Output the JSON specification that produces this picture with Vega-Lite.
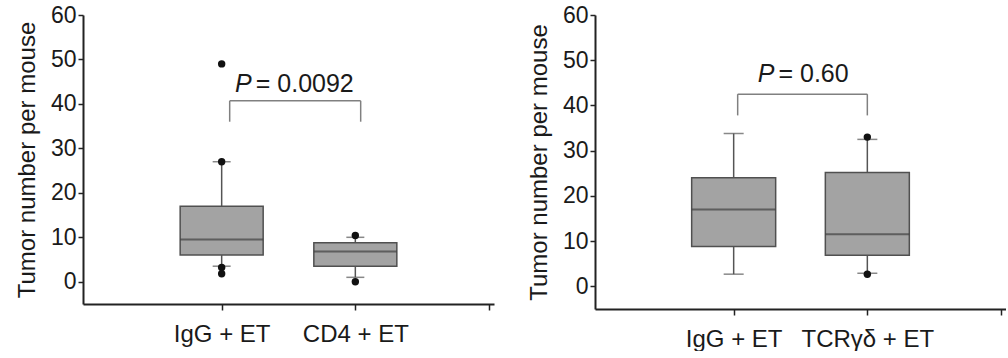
{
  "$schema": "https://vega.github.io/schema/vega-lite/v6.json",
  "padding": {"left": 15, "top": 4, "right": 0, "bottom": 0},
  "spacing": 33,
  "config": {
    "view": {"stroke": null},
    "font": "Liberation Sans",
    "axis": {"domainColor": "#222", "tickColor": "#222", "labelColor": "#1a1a1a", "titleColor": "#1a1a1a", "grid": false, "domainWidth": 2, "tickWidth": 1.5, "labelFont": "Liberation Sans", "titleFont": "Liberation Sans", "titleFontWeight": "normal"}
  },
  "datasets": {
    "boxes": [
      {"panel": "L", "x": 1, "q1": 6, "median": 9.5, "q3": 17, "lower": 3.5, "upper": 27},
      {"panel": "L", "x": 2, "q1": 3.5, "median": 6.8, "q3": 8.8, "lower": 1, "upper": 10},
      {"panel": "R", "x": 1, "q1": 8.8, "median": 17, "q3": 24, "lower": 2.7, "upper": 33.8},
      {"panel": "R", "x": 2, "q1": 6.9, "median": 11.5, "q3": 25.2, "lower": 2.9, "upper": 32.5}
    ],
    "points": [
      {"panel": "L", "x": 1, "value": 49},
      {"panel": "L", "x": 1, "value": 27},
      {"panel": "L", "x": 1, "value": 3.2},
      {"panel": "L", "x": 1, "value": 1.8},
      {"panel": "L", "x": 2, "value": 10.4},
      {"panel": "L", "x": 2, "value": 0},
      {"panel": "R", "x": 2, "value": 33},
      {"panel": "R", "x": 2, "value": 2.7}
    ],
    "brackets": [
      {"panel": "L", "x1": 1.06, "x2": 2.04, "ytop": 40.7, "ybot": 36, "xt": 1.24, "yt": 42.6, "p": "P", "rest": "= 0.0092"},
      {"panel": "R", "x1": 1.03, "x2": 2.0, "ytop": 42.5, "ybot": 37.8, "xt": 1.32, "yt": 45.2, "p": "P", "rest": "= 0.60"}
    ]
  },
  "hconcat": [
    {
      "width": 411,
      "height": 289,
      "layer": [
        {
          "data": {"name": "boxes"},
          "transform": [{"filter": "datum.panel == 'L'"}],
          "mark": {"type": "rule", "color": "#555", "strokeWidth": 1.5},
          "encoding": {
            "x": {"field": "x", "type": "quantitative", "scale": {"domain": [0, 3], "nice": false, "zero": false}, "axis": {"title": null, "values": [1, 2, 3], "labelExpr": "datum.value == 1 ? 'IgG + ET' : datum.value == 2 ? 'CD4 + ET' : ''", "tickSize": 6, "labelFontSize": 24, "labelPadding": 12}},
            "y": {"field": "lower", "type": "quantitative", "scale": {"domain": [-5, 60], "nice": false, "zero": false}, "axis": {"title": "Tumor number per mouse", "values": [0, 10, 20, 30, 40, 50, 60], "tickSize": 5, "labelFontSize": 23, "labelPadding": 2, "titleFontSize": 24, "titlePadding": 11}},
            "y2": {"field": "q1"}
          }
        },
        {
          "data": {"name": "boxes"},
          "transform": [{"filter": "datum.panel == 'L'"}],
          "mark": {"type": "rule", "color": "#555", "strokeWidth": 1.5},
          "encoding": {
            "x": {"field": "x", "type": "quantitative", "scale": {"domain": [0, 3], "nice": false, "zero": false}},
            "y": {"field": "q3", "type": "quantitative", "scale": {"domain": [-5, 60], "nice": false, "zero": false}},
            "y2": {"field": "upper"}
          }
        },
        {
          "data": {"name": "boxes"},
          "transform": [{"filter": "datum.panel == 'L'"}],
          "mark": {"type": "tick", "orient": "horizontal", "color": "#555", "size": 18, "thickness": 1.5},
          "encoding": {
            "x": {"field": "x", "type": "quantitative", "scale": {"domain": [0, 3], "nice": false, "zero": false}},
            "y": {"field": "lower", "type": "quantitative", "scale": {"domain": [-5, 60], "nice": false, "zero": false}}
          }
        },
        {
          "data": {"name": "boxes"},
          "transform": [{"filter": "datum.panel == 'L'"}],
          "mark": {"type": "tick", "orient": "horizontal", "color": "#555", "size": 18, "thickness": 1.5},
          "encoding": {
            "x": {"field": "x", "type": "quantitative", "scale": {"domain": [0, 3], "nice": false, "zero": false}},
            "y": {"field": "upper", "type": "quantitative", "scale": {"domain": [-5, 60], "nice": false, "zero": false}}
          }
        },
        {
          "data": {"name": "boxes"},
          "transform": [{"filter": "datum.panel == 'L'"}],
          "mark": {"type": "bar", "size": 83, "fill": "#a3a3a3", "stroke": "#505050", "strokeWidth": 1.5},
          "encoding": {
            "x": {"field": "x", "type": "quantitative", "scale": {"domain": [0, 3], "nice": false, "zero": false}},
            "y": {"field": "q1", "type": "quantitative", "scale": {"domain": [-5, 60], "nice": false, "zero": false}},
            "y2": {"field": "q3"}
          }
        },
        {
          "data": {"name": "boxes"},
          "transform": [{"filter": "datum.panel == 'L'"}],
          "mark": {"type": "tick", "orient": "horizontal", "color": "#404040", "size": 83, "thickness": 2},
          "encoding": {
            "x": {"field": "x", "type": "quantitative", "scale": {"domain": [0, 3], "nice": false, "zero": false}},
            "y": {"field": "median", "type": "quantitative", "scale": {"domain": [-5, 60], "nice": false, "zero": false}}
          }
        },
        {
          "data": {"name": "points"},
          "transform": [{"filter": "datum.panel == 'L'"}],
          "mark": {"type": "point", "shape": "circle", "filled": true, "color": "#111", "size": 55, "opacity": 1},
          "encoding": {
            "x": {"field": "x", "type": "quantitative", "scale": {"domain": [0, 3], "nice": false, "zero": false}},
            "y": {"field": "value", "type": "quantitative", "scale": {"domain": [-5, 60], "nice": false, "zero": false}}
          }
        },
        {
          "data": {"name": "brackets"},
          "transform": [{"filter": "datum.panel == 'L'"}],
          "mark": {"type": "rule", "color": "#808080", "strokeWidth": 1.5},
          "encoding": {
            "x": {"field": "x1", "type": "quantitative", "scale": {"domain": [0, 3], "nice": false, "zero": false}},
            "x2": {"field": "x2"},
            "y": {"field": "ytop", "type": "quantitative", "scale": {"domain": [-5, 60], "nice": false, "zero": false}}
          }
        },
        {
          "data": {"name": "brackets"},
          "transform": [{"filter": "datum.panel == 'L'"}],
          "mark": {"type": "rule", "color": "#808080", "strokeWidth": 1.5},
          "encoding": {
            "x": {"field": "x1", "type": "quantitative", "scale": {"domain": [0, 3], "nice": false, "zero": false}},
            "y": {"field": "ybot", "type": "quantitative", "scale": {"domain": [-5, 60], "nice": false, "zero": false}},
            "y2": {"field": "ytop"}
          }
        },
        {
          "data": {"name": "brackets"},
          "transform": [{"filter": "datum.panel == 'L'"}],
          "mark": {"type": "rule", "color": "#808080", "strokeWidth": 1.5},
          "encoding": {
            "x": {"field": "x2", "type": "quantitative", "scale": {"domain": [0, 3], "nice": false, "zero": false}},
            "y": {"field": "ybot", "type": "quantitative", "scale": {"domain": [-5, 60], "nice": false, "zero": false}},
            "y2": {"field": "ytop"}
          }
        },
        {
          "data": {"name": "brackets"},
          "transform": [{"filter": "datum.panel == 'L'"}],
          "mark": {"type": "text", "align": "right", "baseline": "alphabetic", "fontStyle": "italic", "fontSize": 25, "color": "#1a1a1a", "dx": -2},
          "encoding": {
            "x": {"field": "xt", "type": "quantitative", "scale": {"domain": [0, 3], "nice": false, "zero": false}},
            "y": {"field": "yt", "type": "quantitative", "scale": {"domain": [-5, 60], "nice": false, "zero": false}},
            "text": {"field": "p"}
          }
        },
        {
          "data": {"name": "brackets"},
          "transform": [{"filter": "datum.panel == 'L'"}],
          "mark": {"type": "text", "align": "left", "baseline": "alphabetic", "fontSize": 25, "color": "#1a1a1a", "dx": 2},
          "encoding": {
            "x": {"field": "xt", "type": "quantitative", "scale": {"domain": [0, 3], "nice": false, "zero": false}},
            "y": {"field": "yt", "type": "quantitative", "scale": {"domain": [-5, 60], "nice": false, "zero": false}},
            "text": {"field": "rest"}
          }
        }
      ]
    },
    {
      "width": 411,
      "height": 294,
      "layer": [
        {
          "data": {"name": "boxes"},
          "transform": [{"filter": "datum.panel == 'R'"}],
          "mark": {"type": "rule", "color": "#555", "strokeWidth": 1.5},
          "encoding": {
            "x": {"field": "x", "type": "quantitative", "scale": {"domain": [0, 3], "nice": false, "zero": false}, "axis": {"title": null, "values": [1, 2, 3], "labelExpr": "datum.value == 1 ? 'IgG + ET' : datum.value == 2 ? 'TCRγδ + ET' : ''", "tickSize": 6, "labelFontSize": 24, "labelPadding": 12}},
            "y": {"field": "lower", "type": "quantitative", "scale": {"domain": [-5, 60], "nice": false, "zero": false}, "axis": {"title": "Tumor number per mouse", "values": [0, 10, 20, 30, 40, 50, 60], "tickSize": 5, "labelFontSize": 23, "labelPadding": 2, "titleFontSize": 24, "titlePadding": 11}},
            "y2": {"field": "q1"}
          }
        },
        {
          "data": {"name": "boxes"},
          "transform": [{"filter": "datum.panel == 'R'"}],
          "mark": {"type": "rule", "color": "#555", "strokeWidth": 1.5},
          "encoding": {
            "x": {"field": "x", "type": "quantitative", "scale": {"domain": [0, 3], "nice": false, "zero": false}},
            "y": {"field": "q3", "type": "quantitative", "scale": {"domain": [-5, 60], "nice": false, "zero": false}},
            "y2": {"field": "upper"}
          }
        },
        {
          "data": {"name": "boxes"},
          "transform": [{"filter": "datum.panel == 'R'"}],
          "mark": {"type": "tick", "orient": "horizontal", "color": "#555", "size": 20, "thickness": 1.5},
          "encoding": {
            "x": {"field": "x", "type": "quantitative", "scale": {"domain": [0, 3], "nice": false, "zero": false}},
            "y": {"field": "lower", "type": "quantitative", "scale": {"domain": [-5, 60], "nice": false, "zero": false}}
          }
        },
        {
          "data": {"name": "boxes"},
          "transform": [{"filter": "datum.panel == 'R'"}],
          "mark": {"type": "tick", "orient": "horizontal", "color": "#555", "size": 20, "thickness": 1.5},
          "encoding": {
            "x": {"field": "x", "type": "quantitative", "scale": {"domain": [0, 3], "nice": false, "zero": false}},
            "y": {"field": "upper", "type": "quantitative", "scale": {"domain": [-5, 60], "nice": false, "zero": false}}
          }
        },
        {
          "data": {"name": "boxes"},
          "transform": [{"filter": "datum.panel == 'R'"}],
          "mark": {"type": "bar", "size": 84, "fill": "#a3a3a3", "stroke": "#505050", "strokeWidth": 1.5},
          "encoding": {
            "x": {"field": "x", "type": "quantitative", "scale": {"domain": [0, 3], "nice": false, "zero": false}},
            "y": {"field": "q1", "type": "quantitative", "scale": {"domain": [-5, 60], "nice": false, "zero": false}},
            "y2": {"field": "q3"}
          }
        },
        {
          "data": {"name": "boxes"},
          "transform": [{"filter": "datum.panel == 'R'"}],
          "mark": {"type": "tick", "orient": "horizontal", "color": "#404040", "size": 84, "thickness": 2},
          "encoding": {
            "x": {"field": "x", "type": "quantitative", "scale": {"domain": [0, 3], "nice": false, "zero": false}},
            "y": {"field": "median", "type": "quantitative", "scale": {"domain": [-5, 60], "nice": false, "zero": false}}
          }
        },
        {
          "data": {"name": "points"},
          "transform": [{"filter": "datum.panel == 'R'"}],
          "mark": {"type": "point", "shape": "circle", "filled": true, "color": "#111", "size": 55, "opacity": 1},
          "encoding": {
            "x": {"field": "x", "type": "quantitative", "scale": {"domain": [0, 3], "nice": false, "zero": false}},
            "y": {"field": "value", "type": "quantitative", "scale": {"domain": [-5, 60], "nice": false, "zero": false}}
          }
        },
        {
          "data": {"name": "brackets"},
          "transform": [{"filter": "datum.panel == 'R'"}],
          "mark": {"type": "rule", "color": "#808080", "strokeWidth": 1.5},
          "encoding": {
            "x": {"field": "x1", "type": "quantitative", "scale": {"domain": [0, 3], "nice": false, "zero": false}},
            "x2": {"field": "x2"},
            "y": {"field": "ytop", "type": "quantitative", "scale": {"domain": [-5, 60], "nice": false, "zero": false}}
          }
        },
        {
          "data": {"name": "brackets"},
          "transform": [{"filter": "datum.panel == 'R'"}],
          "mark": {"type": "rule", "color": "#808080", "strokeWidth": 1.5},
          "encoding": {
            "x": {"field": "x1", "type": "quantitative", "scale": {"domain": [0, 3], "nice": false, "zero": false}},
            "y": {"field": "ybot", "type": "quantitative", "scale": {"domain": [-5, 60], "nice": false, "zero": false}},
            "y2": {"field": "ytop"}
          }
        },
        {
          "data": {"name": "brackets"},
          "transform": [{"filter": "datum.panel == 'R'"}],
          "mark": {"type": "rule", "color": "#808080", "strokeWidth": 1.5},
          "encoding": {
            "x": {"field": "x2", "type": "quantitative", "scale": {"domain": [0, 3], "nice": false, "zero": false}},
            "y": {"field": "ybot", "type": "quantitative", "scale": {"domain": [-5, 60], "nice": false, "zero": false}},
            "y2": {"field": "ytop"}
          }
        },
        {
          "data": {"name": "brackets"},
          "transform": [{"filter": "datum.panel == 'R'"}],
          "mark": {"type": "text", "align": "right", "baseline": "alphabetic", "fontStyle": "italic", "fontSize": 25, "color": "#1a1a1a", "dx": -2},
          "encoding": {
            "x": {"field": "xt", "type": "quantitative", "scale": {"domain": [0, 3], "nice": false, "zero": false}},
            "y": {"field": "yt", "type": "quantitative", "scale": {"domain": [-5, 60], "nice": false, "zero": false}},
            "text": {"field": "p"}
          }
        },
        {
          "data": {"name": "brackets"},
          "transform": [{"filter": "datum.panel == 'R'"}],
          "mark": {"type": "text", "align": "left", "baseline": "alphabetic", "fontSize": 25, "color": "#1a1a1a", "dx": 2},
          "encoding": {
            "x": {"field": "xt", "type": "quantitative", "scale": {"domain": [0, 3], "nice": false, "zero": false}},
            "y": {"field": "yt", "type": "quantitative", "scale": {"domain": [-5, 60], "nice": false, "zero": false}},
            "text": {"field": "rest"}
          }
        }
      ]
    }
  ]
}
